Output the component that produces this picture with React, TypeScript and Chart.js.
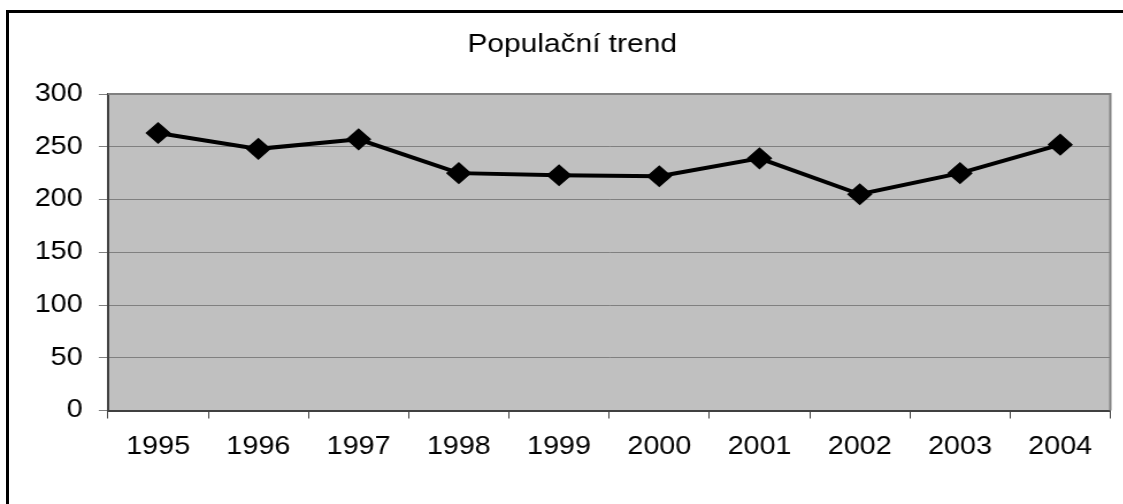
import React, { useEffect, useRef } from "react";
import { Chart, registerables } from "chart.js";

Chart.register(...registerables);

const years = ["1995", "1996", "1997", "1998", "1999", "2000", "2001", "2002", "2003", "2004"];
const population = [263, 248, 257, 225, 223, 222, 239, 205, 225, 252];
const chartTitle = "Populační trend";
const yMin = 0;
const yMax = 300;
const yStep = 50;

// the reference picture is stretched horizontally
const STRETCH = 1.15;
const PAGE_W = 1123;
const PAGE_H = 504;
const CANVAS_W = Math.round(PAGE_W / STRETCH);

const plotBackground = {
  id: "plotBackground",
  beforeDraw(chart: any) {
    const { ctx, chartArea } = chart;
    ctx.save();
    ctx.fillStyle = "#C0C0C0";
    ctx.fillRect(chartArea.left, chartArea.top, chartArea.right - chartArea.left, chartArea.bottom - chartArea.top);
    ctx.restore();
  },
  beforeDatasetsDraw(chart: any) {
    const { ctx, chartArea } = chart;
    ctx.save();
    ctx.strokeStyle = "#808080";
    ctx.lineWidth = 2;
    ctx.beginPath();
    ctx.moveTo(chartArea.left, chartArea.top);
    ctx.lineTo(chartArea.right, chartArea.top);
    ctx.lineTo(chartArea.right, chartArea.bottom);
    ctx.stroke();
    ctx.restore();
  },
};

export default function App() {
  const ref = useRef<HTMLCanvasElement>(null);
  useEffect(() => {
    if (!ref.current) return;
    const font = "'Liberation Sans', Arial, sans-serif";
    const chart = new Chart(ref.current, {
      type: "line",
      data: {
        labels: years,
        datasets: [
          {
            data: population,
            borderColor: "#000000",
            backgroundColor: "#000000",
            borderWidth: 4,
            pointStyle: "rectRot",
            pointRadius: 10,
            pointBorderWidth: 1.5,
            pointBackgroundColor: "#000000",
            pointBorderColor: "#000000",
            tension: 0,
          },
        ],
      },
      options: {
        animation: false,
        responsive: false,
        maintainAspectRatio: false,
        layout: { padding: { left: 26.8, right: 8.7, top: 0, bottom: 0 } },
        plugins: {
          legend: { display: false },
          tooltip: { enabled: false },
          title: {
            display: true,
            text: chartTitle,
            color: "#000000",
            font: { family: font, size: 26, weight: "normal" },
            padding: { top: 29.4, bottom: 33.4 },
          },
        },
        scales: {
          x: {
            offset: true,
            grid: {
              offset: true,
              drawOnChartArea: false,
              drawTicks: true,
              tickLength: 8,
              color: "#404040",
              lineWidth: 1,
            },
            border: { color: "#404040", width: 2 },
            ticks: {
              color: "#000000",
              font: { family: font, size: 25 },
              padding: 13.5,
              maxRotation: 0,
            },
            afterFit(scale: any) {
              scale.height = 93.5;
            },
          },
          y: {
            min: yMin,
            max: yMax,
            grid: {
              color: "#808080",
              lineWidth: 1,
              drawTicks: true,
              tickLength: 8,
            },
            border: { color: "#404040", width: 2 },
            ticks: {
              stepSize: yStep,
              color: "#000000",
              font: { family: font, size: 25 },
              padding: 14,
            },
            afterFit(scale: any) {
              scale.width = 67.1;
            },
          },
        },
      },
      plugins: [plotBackground],
    });
    return () => chart.destroy();
  }, []);

  return (
    <div style={{ position: "fixed", left: 0, top: 0, width: PAGE_W, height: PAGE_H, background: "#ffffff", overflow: "hidden" }}>
      <canvas
        ref={ref}
        width={CANVAS_W}
        height={PAGE_H}
        style={{ position: "absolute", left: 0, top: 0, transform: `scaleX(${STRETCH})`, transformOrigin: "0 0" }}
      />
      <div
        style={{
          position: "absolute",
          left: 6,
          top: 10,
          width: 1200,
          height: 600,
          borderTop: "3px solid #000",
          borderLeft: "3px solid #000",
          pointerEvents: "none",
        }}
      />
    </div>
  );
}
